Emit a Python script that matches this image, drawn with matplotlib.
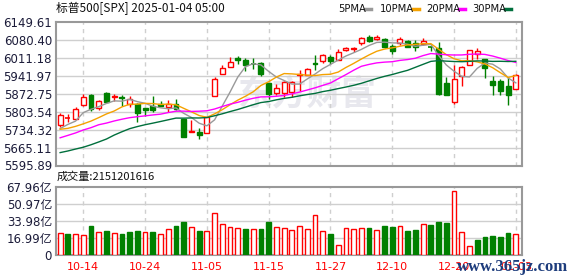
import numpy as np
import matplotlib
matplotlib.use('Agg')
import matplotlib.pyplot as plt
from matplotlib.lines import Line2D
from matplotlib.patches import Rectangle

# closes before the first candle, only used for the moving averages
prev_closes = [5592.18, 5591.96, 5648.40, 5528.93, 5520.07, 5503.41, 5408.42, 5471.05,
               5495.52, 5554.13, 5595.76, 5626.02, 5633.09, 5634.58, 5618.26, 5713.64,
               5702.55, 5718.57, 5732.93, 5722.26, 5745.37, 5738.17, 5762.48, 5708.75,
               5709.54, 5699.94, 5751.07, 5695.94, 5751.13]

opens = [5751.80, 5778.36, 5775.09, 5829.81, 5866.74, 5816.58, 5875.62, 5859.43, 5857.82, 5832.70,
         5834.50, 5817.80, 5826.75, 5833.93, 5819.68, 5832.65, 5775.34, 5723.22, 5725.15, 5722.43,
         5864.89, 5947.21, 5976.76, 6008.86, 6003.60, 5985.75, 5989.55, 5912.79, 5874.17, 5874.00,
         5878.00, 5944.00, 5944.36, 5992.28, 6000.03, 6014.11, 6003.98, 6040.11, 6042.97, 6069.39,
         6089.03, 6081.38, 6083.01, 6057.59, 6066.00, 6074.29, 6068.17, 6063.79, 6052.55, 6047.65,
         5912.71, 5842.00, 5940.25, 5984.63, 6024.97, 6006.17, 5920.67, 5919.74, 5903.26, 5891.07]
highs = [5796.80, 5795.03, 5822.13, 5871.41, 5870.36, 5846.52, 5878.46, 5872.17, 5866.92, 5863.04,
         5834.85, 5817.80, 5862.82, 5842.92, 5847.19, 5850.94, 5775.34, 5772.71, 5741.43, 5783.44,
         5936.14, 5983.84, 6012.45, 6017.31, 6009.92, 6008.19, 5993.88, 5915.15, 5908.12, 5920.67,
         5920.67, 5963.44, 5972.90, 6020.75, 6025.42, 6020.16, 6044.17, 6053.58, 6052.07, 6089.84,
         6099.97, 6099.97, 6088.51, 6064.64, 6092.59, 6079.68, 6078.58, 6085.19, 6057.68, 6070.67,
         5935.52, 5982.06, 5978.25, 6040.10, 6049.75, 6006.17, 5940.79, 5929.74, 5935.09, 5949.34]
lows = [5745.02, 5764.76, 5775.09, 5824.80, 5804.48, 5808.34, 5840.25, 5846.11, 5824.04, 5821.17,
        5762.41, 5784.92, 5799.98, 5823.08, 5802.17, 5811.28, 5703.76, 5723.22, 5696.51, 5722.10,
        5864.89, 5947.21, 5976.76, 5986.69, 5960.08, 5965.91, 5942.28, 5853.01, 5865.95, 5860.00,
        5860.57, 5883.70, 5944.36, 5963.91, 5992.27, 5984.87, 6003.98, 6035.33, 6033.39, 6061.06,
        6072.00, 6079.98, 6048.63, 6024.16, 6060.15, 6051.25, 6035.77, 6059.14, 6035.19, 5867.79,
        5866.07, 5832.30, 5902.57, 5981.44, 6007.37, 5932.95, 5869.16, 5868.86, 5829.53, 5888.66]
closes = [5792.04, 5780.05, 5815.03, 5859.85, 5815.26, 5842.47, 5841.47, 5864.67, 5853.98, 5851.20,
          5797.42, 5809.86, 5808.12, 5823.52, 5832.92, 5813.67, 5705.45, 5728.80, 5712.69, 5782.76,
          5929.04, 5973.10, 5995.54, 6001.35, 5983.99, 5985.38, 5949.17, 5870.62, 5893.62, 5916.98,
          5917.11, 5948.71, 5969.34, 5987.37, 6021.63, 5998.74, 6032.38, 6047.15, 6049.88, 6086.49,
          6075.11, 6090.27, 6052.85, 6034.91, 6084.19, 6051.25, 6051.09, 6074.08, 6050.61, 5872.16,
          5867.08, 5930.85, 5974.07, 6040.04, 6037.59, 5970.84, 5906.94, 5881.63, 5868.55, 5942.47]
# volume in 亿
volumes = [21.8, 21.1, 20.8, 19.8, 29.1, 22.8, 24.1, 21.8, 21.1, 23.1,
           24.1, 22.8, 23.1, 20.8, 26.1, 29.1, 33.2, 27.8, 24.1, 23.8,
           41.9, 30.8, 27.8, 26.8, 26.1, 25.8, 26.1, 33.2, 27.8, 26.8,
           24.8, 28.8, 26.1, 39.9, 23.8, 21.1, 9.7, 26.8, 26.1, 27.1,
           27.1, 24.8, 29.1, 28.1, 28.8, 24.1, 25.1, 30.8, 30.2, 33.2,
           32.2, 64.3, 22.8, 8.7, 15.1, 18.1, 19.1, 18.1, 22.1, 21.51]

tick_idx = [3, 11, 19, 27, 35, 43, 51, 59]
tick_labels = ['10-14', '10-24', '11-05', '11-15', '11-27', '12-10', '12-20', '01-03']
price_ticks = [5595.89, 5665.11, 5734.32, 5803.54, 5872.75, 5941.97, 6011.18, 6080.40, 6149.61]
vol_ticks = [0, 16.99, 33.98, 50.97, 67.96]
vol_labels = ['0', '16.99亿', '33.98亿', '50.97亿', '67.96亿']

ma_names = ['5PMA', '10PMA', '20PMA', '30PMA']
ma_periods = [5, 10, 20, 30]
ma_colors = ['#999999', '#f5a200', '#ff00ff', '#006f3c']

RED = '#ff0000'
GREEN = '#008000'
GRID = '#cfcfcf'
BORDER = '#999999'
LABEL = '#1c1c3a'

W, H = 578, 276


def fx(x):
    return x / W


def fy(y):
    return 1 - y / H


def style_axes(ax):
    for s in ax.spines.values():
        s.set_color(BORDER)
        s.set_linewidth(1.5)
    ax.tick_params(length=0, pad=2.5, labelsize=8.5, labelcolor=LABEL)
    ax.set_xlim(-0.6, 59.8)
    ax.set_xticks([])
    for t in tick_idx:
        ax.axvline(t, color=GRID, lw=1, ls=(0, (3, 3)), zorder=1)


def main():
    fig = plt.figure(figsize=(W / 100, H / 100), dpi=100)
    n = len(closes)
    x = np.arange(n)

    # price panel
    ax = fig.add_axes([fx(55.5), fy(165.5), fx(522) - fx(55.5), fy(21.7) - fy(165.5)])
    style_axes(ax)
    ax.set_ylim(price_ticks[0], price_ticks[-1])
    ax.set_yticks(price_ticks)
    ax.set_yticklabels(['%.2f' % v for v in price_ticks])
    for v in price_ticks[1:-1]:
        ax.axhline(v, color=GRID, lw=1, zorder=1)

    ax.text(0.54, 0.5, '东方财富', transform=ax.transAxes, fontsize=25, color='#e8e8ee',
            fontweight='bold', ha='center', va='center', family=['Noto Sans CJK SC'], zorder=0.5)

    bw = 0.64
    for i in range(n):
        o, h, l, c = opens[i], highs[i], lows[i], closes[i]
        up = c >= o
        col = RED if up else GREEN
        ax.vlines(i, l, h, color=col, lw=1, zorder=3)
        lo, hi = min(o, c), max(o, c)
        if hi - lo < 2:
            ax.hlines((o + c) / 2, i - bw / 2, i + bw / 2, color=col, lw=1.2, zorder=4)
        else:
            ax.add_patch(Rectangle((i - bw / 2, lo), bw, hi - lo, facecolor='white' if up else GREEN,
                                   edgecolor=col, lw=1, zorder=4))

    allc = prev_closes + closes
    k0 = len(prev_closes)
    for p, colr in zip(ma_periods, ma_colors):
        ma = [np.mean(allc[k - p + 1:k + 1]) for k in range(k0, len(allc))]
        ax.plot(x, ma, color=colr, lw=1, zorder=5)

    # volume panel
    av = fig.add_axes([fx(55.5), fy(255), fx(522) - fx(55.5), fy(187.3) - fy(255)])
    style_axes(av)
    av.set_ylim(0, vol_ticks[-1])
    av.set_yticks(vol_ticks)
    av.set_yticklabels(vol_labels, family=['DejaVu Sans', 'Noto Sans CJK SC'])
    for v in vol_ticks[1:-1]:
        av.axhline(v, color=GRID, lw=1, zorder=1)
    pc = [prev_closes[-1]] + closes[:-1]
    for i in range(n):
        up = closes[i] >= pc[i]
        av.add_patch(Rectangle((i - 0.31, 0), 0.62, volumes[i], facecolor='white' if up else GREEN,
                               edgecolor=RED if up else GREEN, lw=1, zorder=3))

    for t, lab in zip(tick_idx, tick_labels):
        fig.text(fx(60 + t * 7.73), fy(267), lab, color=RED, fontsize=8, ha='center', va='center')

    # header texts
    fig.text(fx(56), fy(8.5), '标普500[SPX] 2025-01-04 05:00', fontsize=8.5, va='center',
             family=['Noto Sans CJK SC', 'DejaVu Sans'], color='#111111')
    fig.text(fx(57), fy(177), '成交量:2151201616', fontsize=8, va='center',
             family=['Noto Sans CJK SC', 'DejaVu Sans'], color='#111111')

    leg_x = [338, 380, 426, 472]
    dash_x = [365, 413, 459, 505]
    for name, colr, tx, dx in zip(ma_names, ma_colors, leg_x, dash_x):
        fig.text(fx(tx), fy(9), name, fontsize=7.2, va='center', color='#111111')
        fig.add_artist(Line2D([fx(dx), fx(dx + 6)], [fy(9), fy(9)], color=colr, lw=2.5))

    fig.text(fx(513), fy(267), 'www.365jz.com', fontsize=12, ha='center', va='center',
             family='Liberation Serif', fontweight='bold', color='#1d3c7c')

    fig.savefig('out.png', dpi=100)


if __name__ == '__main__':
    main()
